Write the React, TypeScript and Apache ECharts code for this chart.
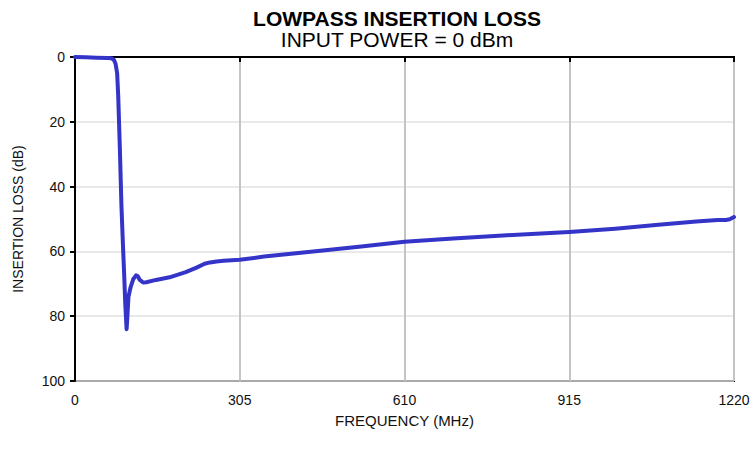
import React, { useEffect, useRef } from "react";
import * as echarts from "echarts";

const frequencyMHz = [
  0, 20, 40, 60, 68, 72, 75, 78, 80, 83, 86, 89, 91, 93, 95.5, 97, 99, 103, 108, 113, 116, 120, 126, 132,
  150, 175, 205, 225, 240, 250, 262, 275, 305, 350, 400, 450, 530, 610, 700, 800, 915, 1000, 1080, 1150, 1190, 1205, 1212, 1220,
];
const insertionLossDb = [
  0, 0.1, 0.2, 0.3, 0.4, 0.9, 2, 5, 12, 28, 46, 59, 67, 76, 84, 80, 74, 71, 68.5, 67.4, 67.6, 68.8, 69.6, 69.5,
  68.8, 68, 66.4, 65, 63.8, 63.4, 63.1, 62.9, 62.6, 61.6, 60.7, 59.9, 58.5, 57, 56, 55, 54, 53, 51.8, 50.8, 50.3, 50.3, 50.1, 49.4,
];
const xTicks = [0, 305, 610, 915, 1220];
const yTicks = [0, 20, 40, 60, 80, 100];

const FONT = "Liberation Sans, Arial, sans-serif";

export default function App() {
  const ref = useRef<HTMLDivElement>(null);
  useEffect(() => {
    if (!ref.current) return;
    const chart = echarts.init(ref.current, null, { renderer: "svg" });
    const data = frequencyMHz.map((f, i) => [f, insertionLossDb[i]]);
    chart.setOption({
      animation: false,
      backgroundColor: "#fff",
      grid: {
        left: 75,
        right: 20,
        top: 57,
        bottom: 81,
        show: true,
        borderColor: "#000",
        borderWidth: 2,
      },
      graphic: [
        {
          type: "text",
          x: 397,
          y: 18,
          style: {
            text: "LOWPASS INSERTION LOSS",
            fontFamily: FONT,
            fontSize: 21,
            fontWeight: "bold",
            fill: "#000",
            textAlign: "center",
            textVerticalAlign: "middle",
          },
        },
        {
          type: "text",
          x: 397,
          y: 39,
          style: {
            text: "INPUT POWER = 0 dBm",
            fontFamily: FONT,
            fontSize: 21,
            fill: "#000",
            textAlign: "center",
            textVerticalAlign: "middle",
          },
        },
      ],
      xAxis: {
        type: "value",
        min: xTicks[0],
        max: xTicks[xTicks.length - 1],
        interval: 305,
        name: "FREQUENCY (MHz)",
        nameLocation: "middle",
        nameGap: 32,
        nameTextStyle: { fontFamily: FONT, fontSize: 15, color: "#111" },
        axisLine: { show: true, lineStyle: { color: "#000", width: 2 } },
        axisTick: { show: true, length: 5, lineStyle: { color: "#000", width: 2 } },
        axisLabel: {
          fontFamily: FONT,
          fontSize: 14,
          color: "#111",
          margin: 12,
          formatter: (v: number) => String(v),
        },
        splitLine: { show: true, lineStyle: { color: "#c4c4c4", width: 2 } },
      },
      yAxis: {
        type: "value",
        inverse: true,
        min: yTicks[0],
        max: yTicks[yTicks.length - 1],
        interval: 20,
        name: "INSERTION LOSS (dB)",
        nameLocation: "middle",
        nameGap: 50,
        nameTextStyle: { fontFamily: FONT, fontSize: 14, color: "#111" },
        axisLine: { show: true, lineStyle: { color: "#000", width: 2 } },
        axisTick: { show: true, length: 5, lineStyle: { color: "#000", width: 2 } },
        axisLabel: {
          fontFamily: FONT,
          fontSize: 14,
          color: "#111",
          margin: 10,
          formatter: (v: number) => String(v),
        },
        splitLine: { show: true, lineStyle: { color: "#e2e2e2", width: 1.5 } },
      },
      series: [
        {
          type: "line",
          data,
          showSymbol: false,
          smooth: false,
          lineStyle: { color: "#3434c8", width: 4, cap: "round", join: "round" },
          z: 5,
        },
      ],
    });
    return () => chart.dispose();
  }, []);
  return (
    <div
      ref={ref}
      style={{ position: "fixed", left: 0, top: 0, width: 754, height: 462, background: "#fff" }}
    />
  );
}
